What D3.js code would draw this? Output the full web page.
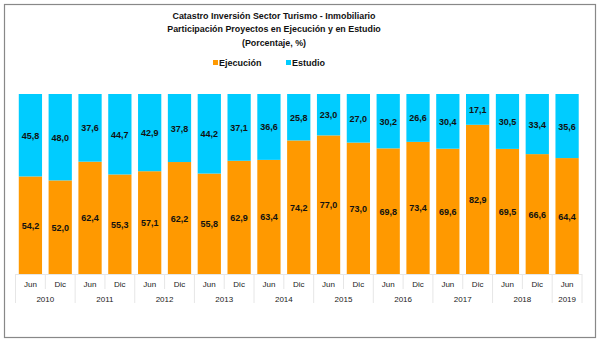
<!DOCTYPE html>
<html>
<head>
<meta charset="utf-8">
<script src="https://cdn.jsdelivr.net/npm/d3@7"></script>
<style>
  body { margin: 0; background: #fff; }
  svg { display: block; font-family: "Liberation Sans", Arial, sans-serif; }
</style>
</head>
<body>
<svg id="chart" width="603" height="349"></svg>
<script>
// Semester labels and year groups
const months = ["Jun","Dic","Jun","Dic","Jun","Dic","Jun","Dic","Jun","Dic","Jun","Dic","Jun","Dic","Jun","Dic","Jun","Dic","Jun"];
const years = ["2010","2010","2011","2011","2012","2012","2013","2013","2014","2014","2015","2015","2016","2016","2017","2017","2018","2018","2019"];
// Share of projects (%)
const ejecucion = [54.2, 52.0, 62.4, 55.3, 57.1, 62.2, 55.8, 62.9, 63.4, 74.2, 77.0, 73.0, 69.8, 73.4, 69.6, 82.9, 69.5, 66.6, 64.4];
const estudio   = [45.8, 48.0, 37.6, 44.7, 42.9, 37.8, 44.2, 37.1, 36.6, 25.8, 23.0, 27.0, 30.2, 26.6, 30.4, 17.1, 30.5, 33.4, 35.6];
const seriesNames = ["Ejecución", "Estudio"];
const colors = ["#FF9900", "#00CCFF"];

const svg = d3.select("#chart");

// outer frame
svg.append("rect").attr("x", 4.5).attr("y", 4.5).attr("width", 591).attr("height", 333)
  .attr("fill", "#fff").attr("stroke", "#888").attr("stroke-width", 1.2);

// titles
const titles = ["Catastro Inversión Sector Turismo - Inmobiliario",
                "Participación Proyectos en Ejecución y en Estudio",
                "(Porcentaje, %)"];
svg.selectAll("text.title").data(titles).join("text")
  .attr("class", "title")
  .attr("x", 274).attr("y", (d, i) => [19, 32, 46][i])
  .attr("text-anchor", "middle").attr("font-size", 8.9).attr("font-weight", "bold")
  .attr("fill", "#111").text(d => d);

// legend
const legendX = [213, 286];
const lg = svg.selectAll("g.leg").data(seriesNames).join("g")
  .attr("class", "leg").attr("transform", (d, i) => `translate(${legendX[i]},66)`);
lg.append("rect").attr("x", 0).attr("y", -6).attr("width", 5).attr("height", 5)
  .attr("fill", (d, i) => colors[i]);
lg.append("text").attr("x", 6).attr("y", 0).attr("font-size", 9).attr("font-weight", "bold")
  .attr("fill", "#111").text(d => d);

// plot area
const x0 = 15.5, x1 = 582, yTop = 94, yBot = 274;
const idx = months.map((m, i) => i);
const x = d3.scaleBand().domain(idx).range([x0, x1]).paddingInner(0.22).paddingOuter(0.11);
const y = d3.scaleLinear().domain([0, 100]).range([yBot, yTop]);

const rows = idx.map(i => ({ i, "Ejecución": ejecucion[i], "Estudio": estudio[i] }));
const stack = d3.stack().keys(seriesNames)(rows);

const layers = svg.selectAll("g.layer").data(stack).join("g")
  .attr("class", "layer").attr("fill", (d, i) => colors[i]);
layers.selectAll("rect").data(d => d).join("rect")
  .attr("x", d => x(d.data.i)).attr("width", x.bandwidth())
  .attr("y", d => y(d[1])).attr("height", d => y(d[0]) - y(d[1]));

// value labels
const fmt = v => v.toFixed(1).replace(".", ",");
layers.selectAll("text").data((d, k) => d.map(p => ({ p, k }))).join("text")
  .attr("x", d => x(d.p.data.i) + x.bandwidth() / 2)
  .attr("y", d => (y(d.p[0]) + y(d.p[1])) / 2 + 3.5)
  .attr("text-anchor", "middle").attr("font-size", 9).attr("font-weight", "bold")
  .attr("fill", "#111").text(d => fmt(d.p.data[seriesNames[d.k]]));

// category axis: month row, year row
const step = x.step();
const gAx = svg.append("g");
gAx.append("line").attr("x1", x0).attr("x2", x1).attr("y1", yBot + 0.5).attr("y2", yBot + 0.5)
  .attr("stroke", "#e6e6e6");
// separators
idx.concat([months.length]).forEach(i => {
  const xs = x0 + i * step;
  const yearEdge = i === 0 || i === months.length || years[i] !== years[i - 1];
  gAx.append("line").attr("x1", xs).attr("x2", xs).attr("y1", yBot)
    .attr("y2", yearEdge ? 303 : 289).attr("stroke", "#e6e6e6");
});
gAx.selectAll("text.m").data(months).join("text").attr("class", "m")
  .attr("x", (d, i) => x(i) + x.bandwidth() / 2).attr("y", 287)
  .attr("text-anchor", "middle").attr("font-size", 8).attr("fill", "#222").text(d => d);
const yearGroups = d3.groups(idx, i => years[i]);
gAx.selectAll("text.y").data(yearGroups).join("text").attr("class", "y")
  .attr("x", d => x0 + (d[1][0] + d[1][d[1].length - 1] + 1) / 2 * step).attr("y", 302)
  .attr("text-anchor", "middle").attr("font-size", 8).attr("fill", "#222").text(d => d[0]);
</script>
</body>
</html>
